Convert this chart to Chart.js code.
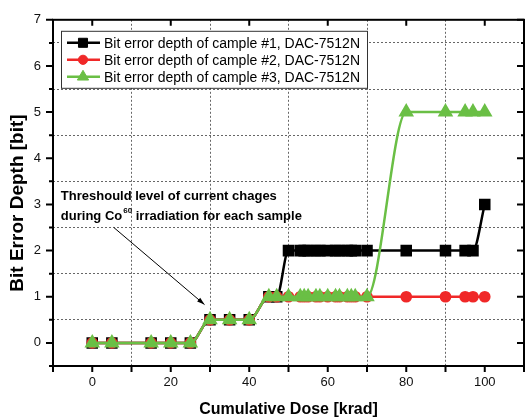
<!DOCTYPE html>
<html>
<head>
<meta charset="utf-8">
<script src="https://cdn.jsdelivr.net/npm/chart.js@4.4.0/dist/chart.umd.min.js"></script>
<style>
  html, body { margin: 0; padding: 0; background: #fff; overflow: hidden; }
  #wrap { width: 533px; height: 419px; }
</style>
</head>
<body>
<div id="wrap"><canvas id="chart" width="533" height="419"></canvas></div>
<script>
// ── Data ─────────────────────────────────────────────────────
const dose    = [0, 5, 15, 20, 25, 30, 35, 40, 45, 47, 50, 53, 54, 55, 57, 58, 60, 62, 63, 65, 66, 67, 70, 80, 90, 95, 97, 100];
const sample1 = [0, 0, 0, 0, 0, 0.5, 0.5, 0.5, 1, 1, 2, 2, 2, 2, 2, 2, 2, 2, 2, 2, 2, 2, 2, 2, 2, 2, 2, 3];
const sample2 = [0, 0, 0, 0, 0, 0.5, 0.5, 0.5, 1, 1, 1, 1, 1, 1, 1, 1, 1, 1, 1, 1, 1, 1, 1, 1, 1, 1, 1, 1];
const sample3 = [0, 0, 0, 0, 0, 0.5, 0.5, 0.5, 1, 1, 1, 1, 1, 1, 1, 1, 1, 1, 1, 1, 1, 1, 1, 5, 5, 5, 5, 5];
const seriesLabels = [
  "Bit error depth of cample #1, DAC-7512N",
  "Bit error depth of cample #2, DAC-7512N",
  "Bit error depth of cample #3, DAC-7512N",
];
const xTickLabels = [0, 20, 40, 60, 80, 100];
const yTickLabels = [0, 1, 2, 3, 4, 5, 6, 7];
const xTitle = "Cumulative Dose [krad]";
const yTitle = "Bit Error Depth [bit]";
const noteLines = ["Threshould level of current chages", "during Co", "60", " irradiation for each sample"];

const FONT = "'Liberation Sans', Arial, sans-serif";
const pts = ys => dose.map((x, i) => ({ x, y: ys[i] }));

// ── Frame, ticks, titles, note, legend ───────────────────────
const decor = {
  id: "decor",
  afterDatasetsDraw(chart) {
    const { ctx, chartArea: a, scales: { x, y } } = chart;
    ctx.save();
    ctx.strokeStyle = "#000";
    ctx.lineWidth = 2;
    ctx.strokeRect(a.left, a.top, a.right - a.left, a.bottom - a.top);

    ctx.lineWidth = 2;
    ctx.beginPath();
    for (let v = -10; v <= 110; v += 10) {
      const px = x.getPixelForValue(v);
      ctx.moveTo(px, a.bottom); ctx.lineTo(px, a.bottom + 6);
      if (v % 20 === 0) { ctx.moveTo(px, a.top); ctx.lineTo(px, a.top + 6); }
    }
    for (let v = -0.5; v <= 7; v += 0.5) {
      const py = y.getPixelForValue(v);
      const major = Number.isInteger(v);
      ctx.moveTo(a.left - (major ? 7 : 4), py); ctx.lineTo(a.left, py);
      ctx.moveTo(a.right - (major ? 7 : 3), py); ctx.lineTo(a.right, py);
    }
    ctx.stroke();

    // axis titles
    ctx.fillStyle = "#000";
    ctx.textAlign = "center";
    ctx.textBaseline = "middle";
    ctx.font = "bold 16px " + FONT;
    ctx.fillText(xTitle, (a.left + a.right) / 2, 410);
    ctx.save();
    ctx.translate(18, 203);
    ctx.rotate(-Math.PI / 2);
    ctx.font = "bold 19px " + FONT;
    ctx.fillText(yTitle, 0, 0);
    ctx.restore();

    // note + arrow
    const nx = x.getPixelForValue(-8), ny = y.getPixelForValue(3.17);
    ctx.textAlign = "left";
    ctx.font = "bold 13px " + FONT;
    ctx.fillText(noteLines[0], nx, ny);
    const l2 = ny + 20;
    ctx.fillText(noteLines[1], nx, l2);
    let w = ctx.measureText(noteLines[1]).width;
    ctx.font = "bold 8px " + FONT;
    ctx.fillText(noteLines[2], nx + w + 1, l2 - 6);
    w += ctx.measureText(noteLines[2]).width + 1;
    ctx.font = "bold 13px " + FONT;
    ctx.fillText(noteLines[3], nx + w, l2);

    const x0 = x.getPixelForValue(5.5), y0 = y.getPixelForValue(2.5);
    const x1 = x.getPixelForValue(28.6), y1 = y.getPixelForValue(0.83);
    ctx.lineWidth = 1;
    ctx.beginPath(); ctx.moveTo(x0, y0); ctx.lineTo(x1, y1); ctx.stroke();
    const ang = Math.atan2(y1 - y0, x1 - x0);
    ctx.beginPath();
    ctx.moveTo(x1, y1);
    ctx.lineTo(x1 - 8 * Math.cos(ang - 0.3), y1 - 8 * Math.sin(ang - 0.3));
    ctx.lineTo(x1 - 8 * Math.cos(ang + 0.3), y1 - 8 * Math.sin(ang + 0.3));
    ctx.closePath(); ctx.fill();

    // legend
    const lx = a.left + 8, ly = a.top + 11, lw = 306, lh = 57;
    ctx.fillStyle = "#fff";
    ctx.fillRect(lx, ly, lw, lh);
    ctx.strokeStyle = "#333";
    ctx.lineWidth = 1;
    ctx.strokeRect(lx + 0.5, ly + 0.5, lw, lh);
    chart.data.datasets.forEach((ds, i) => {
      const ry = ly + 12 + i * 17;
      ctx.strokeStyle = ds.borderColor;
      ctx.lineWidth = 2.5;
      ctx.beginPath(); ctx.moveTo(lx + 6, ry); ctx.lineTo(lx + 39, ry); ctx.stroke();
      ctx.fillStyle = ds.pointBackgroundColor;
      ctx.strokeStyle = ds.pointBackgroundColor;
      ctx.lineWidth = 1;
      Chart.helpers.drawPoint(ctx, { pointStyle: ds.pointStyle, radius: ds.pointRadius, rotation: 0, borderWidth: 1 }, lx + 22, ry);
      ctx.fillStyle = "#000";
      ctx.font = "14px " + FONT;
      ctx.textAlign = "left";
      ctx.textBaseline = "middle";
      ctx.fillText(ds.label, lx + 43, ry + 1);
    });
    ctx.restore();
  },
};

const gridColor = "#666";

new Chart(document.getElementById("chart"), {
  type: "line",
  data: {
    datasets: [
      { label: seriesLabels[0], data: pts(sample1), borderColor: "#000", pointBackgroundColor: "#000", pointBorderColor: "#000",
        pointStyle: "rect", pointRadius: 6.4, borderWidth: 2.5, cubicInterpolationMode: "monotone", order: 3 },
      { label: seriesLabels[1], data: pts(sample2), borderColor: "#f02828", pointBackgroundColor: "#f02828", pointBorderColor: "#f02828",
        pointStyle: "circle", pointRadius: 4.6, borderWidth: 2.5, cubicInterpolationMode: "monotone", order: 2 },
      { label: seriesLabels[2], data: pts(sample3), borderColor: "#6abf45", pointBackgroundColor: "#6abf45", pointBorderColor: "#6abf45",
        pointStyle: "triangle", pointRadius: 6.5, borderWidth: 2.5, cubicInterpolationMode: "monotone", order: 1 },
    ],
  },
  options: {
    responsive: false,
    animation: false,
    layout: { padding: { top: 14, right: 2, left: 0, bottom: 0 } },
    plugins: { legend: { display: false }, tooltip: { enabled: false } },
    scales: {
      x: {
        type: "linear", min: -10, max: 110,
        afterFit: s => { s.height = 53; },
        ticks: {
          stepSize: 10, autoSkip: false, maxRotation: 0, padding: 9,
          font: { family: FONT, size: 13 }, color: "#111",
          callback: v => xTickLabels.includes(v) ? String(v) : "",
        },
        grid: { drawTicks: false, lineWidth: 1,
          color: c => (Math.abs(c.tick.value) % 20 === 10 && c.tick.value < 110 && c.tick.value > -10) ? gridColor : "rgba(0,0,0,0)" },
        border: { display: false, dash: [2, 2] },
      },
      y: {
        type: "linear", min: -0.5, max: 7,
        afterFit: s => { s.width = 53; },
        ticks: {
          stepSize: 0.5, autoSkip: false, padding: 12,
          font: { family: FONT, size: 13 }, color: "#111",
          callback: v => yTickLabels.includes(v) ? String(v) : "",
        },
        grid: { drawTicks: false, lineWidth: 1,
          color: c => (!Number.isInteger(c.tick.value) && c.tick.value > -0.5) ? gridColor : "rgba(0,0,0,0)" },
        border: { display: false, dash: [2, 2] },
      },
    },
  },
  plugins: [decor],
});
</script>
</body>
</html>
